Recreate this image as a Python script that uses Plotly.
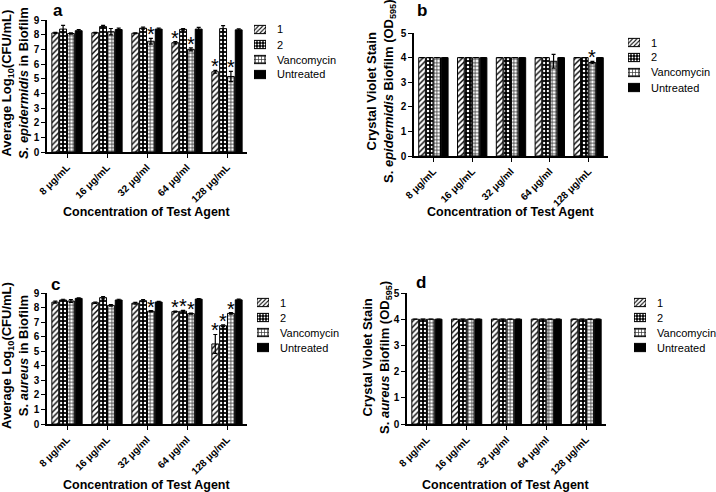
import plotly.graph_objects as go

categories = ["8 μg/mL", "16 μg/mL", "32 μg/ml", "64 μg/ml", "128 μg/mL"]
series_names = ["1", "2", "Vancomycin", "Untreated"]

# Panel a: S. epidermidis, log10 CFU/mL
a_1 = [8.12, 8.13, 8.10, 7.45, 5.47]
a_2 = [8.38, 8.55, 8.44, 8.36, 8.41]
a_v = [8.08, 8.20, 7.55, 7.00, 5.15]
a_u = [8.27, 8.35, 8.38, 8.38, 8.33]
a_1_err = [0.04, 0.03, 0.03, 0.08, 0.10]
a_2_err = [0.25, 0.08, 0.07, 0.05, 0.20]
a_v_err = [0.05, 0.22, 0.20, 0.10, 0.35]
a_u_err = [0.07, 0.10, 0.07, 0.12, 0.06]

# Panel b: S. epidermidis, crystal violet OD595
b_1 = [4.0, 4.0, 4.0, 4.0, 4.0]
b_2 = [4.0, 4.0, 4.0, 4.0, 4.0]
b_v = [4.0, 4.0, 4.0, 3.85, 3.80]
b_u = [4.0, 4.0, 4.0, 4.0, 4.0]
b_1_err = [0.0, 0.0, 0.0, 0.0, 0.0]
b_2_err = [0.0, 0.0, 0.0, 0.0, 0.0]
b_v_err = [0.0, 0.0, 0.0, 0.28, 0.05]
b_u_err = [0.0, 0.0, 0.0, 0.0, 0.0]

# Panel c: S. aureus, log10 CFU/mL
c_1 = [8.37, 8.33, 8.30, 7.72, 5.50]
c_2 = [8.52, 8.68, 8.47, 7.75, 6.75]
c_v = [8.45, 8.15, 7.75, 7.58, 7.60]
c_u = [8.63, 8.52, 8.38, 8.58, 8.53]
c_1_err = [0.07, 0.05, 0.06, 0.04, 0.65]
c_2_err = [0.05, 0.08, 0.07, 0.05, 0.06]
c_v_err = [0.10, 0.06, 0.04, 0.04, 0.05]
c_u_err = [0.04, 0.05, 0.05, 0.04, 0.05]

# Panel d: S. aureus, crystal violet OD595
d_1 = [4.0, 4.0, 4.0, 4.0, 4.0]
d_2 = [4.0, 4.0, 4.0, 4.0, 4.0]
d_v = [4.0, 4.0, 4.0, 4.0, 4.0]
d_u = [4.0, 4.0, 4.0, 4.0, 4.0]
d_1_err = [0.0, 0.0, 0.0, 0.0, 0.0]
d_2_err = [0.0, 0.0, 0.0, 0.0, 0.0]
d_v_err = [0.0, 0.0, 0.0, 0.0, 0.0]
d_u_err = [0.0, 0.0, 0.0, 0.0, 0.0]

# significance markers: (category index, series index)
a_stars = [(2, 2), (3, 0), (3, 2), (4, 0), (4, 2)]
b_stars = [(4, 2)]
c_stars = [(2, 2), (3, 0), (3, 1), (3, 2), (4, 0), (4, 1), (4, 2)]
d_stars = []

FONT = "Liberation Sans"
BARGAP = 0.22
W, H = 716, 492


def px(v):
    return v / W


def py(v):
    return 1 - v / H


pat_shape = ["/", ".", "+", ""]
pat_fg = ["black", "white", "#333333", "black"]
pat_bg = ["white", "black", "white", "black"]
pat_size = [4, 4, 3.5, 4]
pat_sol = [0.35, 0.3, 0.4, 0.3]
colors = ["white", "black", "white", "black"]

panels = [
    ("x", "y", [a_1, a_2, a_v, a_u], [a_1_err, a_2_err, a_v_err, a_u_err], a_stars),
    ("x2", "y2", [b_1, b_2, b_v, b_u], [b_1_err, b_2_err, b_v_err, b_u_err], b_stars),
    ("x3", "y3", [c_1, c_2, c_v, c_u], [c_1_err, c_2_err, c_v_err, c_u_err], c_stars),
    ("x4", "y4", [d_1, d_2, d_v, d_u], [d_1_err, d_2_err, d_v_err, d_u_err], d_stars),
]

fig = go.Figure()
annotations = []
for xa, ya, vals, errs, stars in panels:
    for k, name in enumerate(series_names):
        fig.add_trace(go.Bar(
            x=categories, y=vals[k], name=name, xaxis=xa, yaxis=ya, showlegend=False,
            marker=dict(color=colors[k],
                        pattern=dict(shape=pat_shape[k], fgcolor=pat_fg[k], bgcolor=pat_bg[k],
                                     size=pat_size[k], solidity=pat_sol[k], fillmode="replace"),
                        line=dict(color="black", width=1)),
            error_y=dict(type="data", array=errs[k], visible=True,
                         color="black", thickness=1.2, width=2),
        ))
    for gi, si in stars:
        off = (si - 1.5) * (1 - BARGAP) / 4
        annotations.append(dict(
            x=gi + off, y=vals[si][gi] + errs[si][gi], xref=xa, yref=ya,
            text="*", showarrow=False, xanchor="center", yanchor="bottom", yshift=-9,
            font=dict(family=FONT, size=20, color="black"),
        ))

# Legend swatches: one small bar per series (no data)
legend_pos = [(254, 22), (628, 35), (257, 295), (634, 295)]  # left, top of swatch block (px)
ROW = 15
for i, (lx, ly) in enumerate(legend_pos):
    n = 5 + i
    for k in range(4):
        fig.add_trace(go.Bar(
            x=[1], y=[k], orientation="h", xaxis="x%d" % n, yaxis="y%d" % n,
            showlegend=False, width=0.55, hoverinfo="skip",
            marker=dict(color=colors[k], line=dict(color="black", width=1),
                        pattern=dict(shape=pat_shape[k], fgcolor=pat_fg[k], bgcolor=pat_bg[k],
                                     size=3, solidity=pat_sol[k], fillmode="replace")),
        ))
    for k, name in enumerate(series_names):
        annotations.append(dict(
            x=px(lx + 21), y=py(ly + ROW * k + ROW / 2), xref="paper", yref="paper",
            text=name, showarrow=False, xanchor="left", yanchor="middle",
            font=dict(family=FONT, size=11, color="black"),
        ))

axis_common = dict(showline=True, linecolor="black", linewidth=1.5, ticks="outside",
                   tickcolor="black", ticklen=4, tickwidth=1.2, showgrid=False,
                   zeroline=False, automargin=False,
                   tickfont=dict(family=FONT, size=10, color="black", weight="bold"))

doms = [
    dict(x=[px(47), px(247)], y=[py(152), py(20)], top=9),
    dict(x=[px(414), px(608)], y=[py(156), py(33)], top=5),
    dict(x=[px(47), px(247)], y=[py(424), py(293)], top=9),
    dict(x=[px(407), px(606)], y=[py(424), py(293)], top=5),
]
layout_axes = {}
for i, d in enumerate(doms):
    sfx = "" if i == 0 else str(i + 1)
    layout_axes["xaxis" + sfx] = dict(axis_common, domain=d["x"], anchor="y" + sfx,
                                       tickangle=-45, range=[-0.5, 4.5], type="category")
    layout_axes["yaxis" + sfx] = dict(axis_common, domain=d["y"], anchor="x" + sfx,
                                       range=[0, d["top"]], dtick=1)
for i, (lx, ly) in enumerate(legend_pos):
    n = 5 + i
    layout_axes["xaxis%d" % n] = dict(domain=[px(lx), px(lx + 12)], range=[0, 1], visible=False,
                                      anchor="y%d" % n, fixedrange=True, automargin=False)
    layout_axes["yaxis%d" % n] = dict(domain=[py(ly + 4 * ROW), py(ly)], range=[3.5, -0.5],
                                      visible=False, anchor="x%d" % n, fixedrange=True,
                                      automargin=False)

# panel letters
for k, (x, y) in zip("abcd", [(58, 11), (422, 11), (55, 284), (421, 282)]):
    annotations.append(dict(x=px(x), y=py(y), xref="paper", yref="paper", text=k,
                            showarrow=False, xanchor="center", yanchor="middle",
                            font=dict(family=FONT, size=17, color="black", weight="bold")))

# x axis titles
for x, y in [(147, 212), (147, 485), (511, 212), (506, 485)]:
    annotations.append(dict(x=px(x), y=py(y), xref="paper", yref="paper",
                            text="Concentration of Test Agent", showarrow=False,
                            xanchor="center", yanchor="middle",
                            font=dict(family=FONT, size=12.5, color="black", weight="bold")))

ytitles = [
    ("Average Log<sub>10</sub>(CFU/mL)<br><i>S. epidermidis</i> in Biofilm", 15, 83),
    ("Crystal Violet Stain<br>S. <i>epidermidis</i> Biofilm (OD<sub>595</sub>)", 381, 91),
    ("Average Log<sub>10</sub>(CFU/mL)<br>S. <i>aureus</i> in Biofilm", 15, 356),
    ("Crystal Violet Stain<br>S. <i>aureus</i> Biofilm (OD<sub>595</sub>)", 377, 358),
]
for t, x, y in ytitles:
    annotations.append(dict(x=px(x), y=py(y), xref="paper", yref="paper", text=t,
                            showarrow=False, textangle=-90, xanchor="center", yanchor="middle",
                            font=dict(family=FONT, size=13, color="black", weight="bold")))

fig.update_layout(
    width=W, height=H, margin=dict(l=0, r=0, t=0, b=0, pad=0),
    paper_bgcolor="white", plot_bgcolor="white", showlegend=False,
    barmode="group", bargap=BARGAP, bargroupgap=0.12,
    annotations=annotations, **layout_axes,
)

fig.write_html("out.html", config={"displayModeBar": False},
               post_script="document.body.style.margin='0px';document.body.style.overflow='hidden';")
